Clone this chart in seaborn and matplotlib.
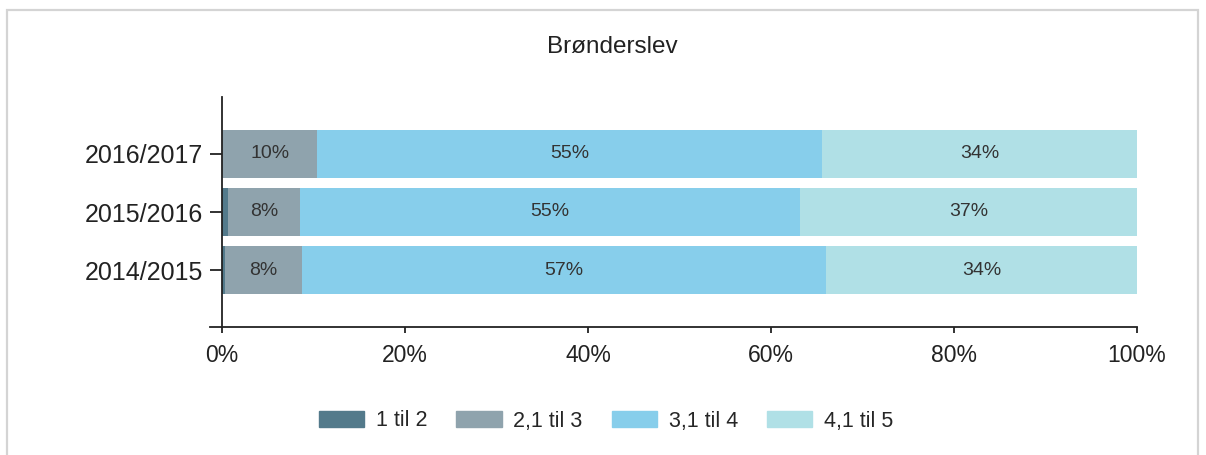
import matplotlib
matplotlib.use('Agg')
import matplotlib.pyplot as plt
import matplotlib.patches as mpatches
import numpy as np
import pandas as pd
import seaborn as sns

# data (percent of pupils per grade band)
periods = ['2016/2017', '2015/2016', '2014/2015']
bands = ['1 til 2', '2,1 til 3', '3,1 til 4', '4,1 til 5']
til_2 = [0.0, 0.7, 0.3]
til_3 = [10.4, 7.8, 8.4]
til_4 = [55.2, 54.7, 57.3]
til_5 = [34.4, 36.8, 34.0]
colors = ['#537A8B', '#8FA3AD', '#87CEEB', '#B0E0E6']

sns.set_style('white')
plt.rcParams['font.family'] = ['Liberation Sans', 'DejaVu Sans']

df = pd.DataFrame({'period': periods, bands[0]: til_2, bands[1]: til_3,
                   bands[2]: til_4, bands[3]: til_5})
cum = df[bands].cumsum(axis=1)

fig = plt.figure(figsize=(12.06, 4.55), dpi=100)
ax = fig.add_axes([222 / 1206, 1 - 327 / 455, 915 / 1206, 230 / 455])

# stacked bars: draw cumulative totals from the largest down so each band shows
for band, color in zip(bands[::-1], colors[::-1]):
    sns.barplot(x=cum[band], y=df['period'], order=periods, orient='h',
                color=color, width=0.83, ax=ax, saturation=1, linewidth=0)

# percent labels in the middle of each segment
for i, period in enumerate(periods):
    left = 0
    for band in bands:
        val = df.loc[i, band]
        if val >= 3:
            ax.text(left + val / 2, i, '{:.0f}%'.format(val), ha='center', va='center',
                    fontsize=14, color='#333333')
        left += val

ax.set_xlim(0, 100)
ax.set_ylim(2.98, -0.98)
ax.set_xticks(np.arange(0, 101, 20))
ax.set_xticklabels(['{}%'.format(t) for t in range(0, 101, 20)])
ax.set_xlabel('')
ax.set_ylabel('')

for side in ['top', 'right']:
    ax.spines[side].set_visible(False)
for side in ['left', 'bottom']:
    ax.spines[side].set_color('#222222')
    ax.spines[side].set_linewidth(1.3)
ax.spines['left'].set_zorder(5)
ax.spines['bottom'].set_bounds(-1.3, 100)

ax.tick_params(axis='y', length=8.5, width=1.3, color='#222222', pad=5,
               labelsize=18, labelcolor='#222222', left=True)
ax.tick_params(axis='x', length=4.5, width=1.3, color='#222222', pad=8,
               labelsize=16.5, labelcolor='#222222', bottom=True)

fig.text(612 / 1206, 1 - 47 / 455, 'Brønderslev', ha='center', va='center',
         fontsize=17.5, color='#222222')

handles = [mpatches.Patch(color=c, label=b) for b, c in zip(bands, colors)]
fig.legend(handles=handles, loc='center', bbox_to_anchor=(606 / 1206, 1 - 421 / 455),
           ncol=4, frameon=False, fontsize=15.5, handlelength=2.1, handleheight=0.77,
           handletextpad=0.55, columnspacing=1.35)

# light grey frame round the chart
frame = mpatches.Rectangle((7 / 1206, -0.1), (1198 - 7) / 1206, 1.1 - 10 / 455,
                           transform=fig.transFigure, fill=False,
                           edgecolor='#d4d4d4', linewidth=1.6)
fig.add_artist(frame)

fig.savefig('out.png', dpi=100)
